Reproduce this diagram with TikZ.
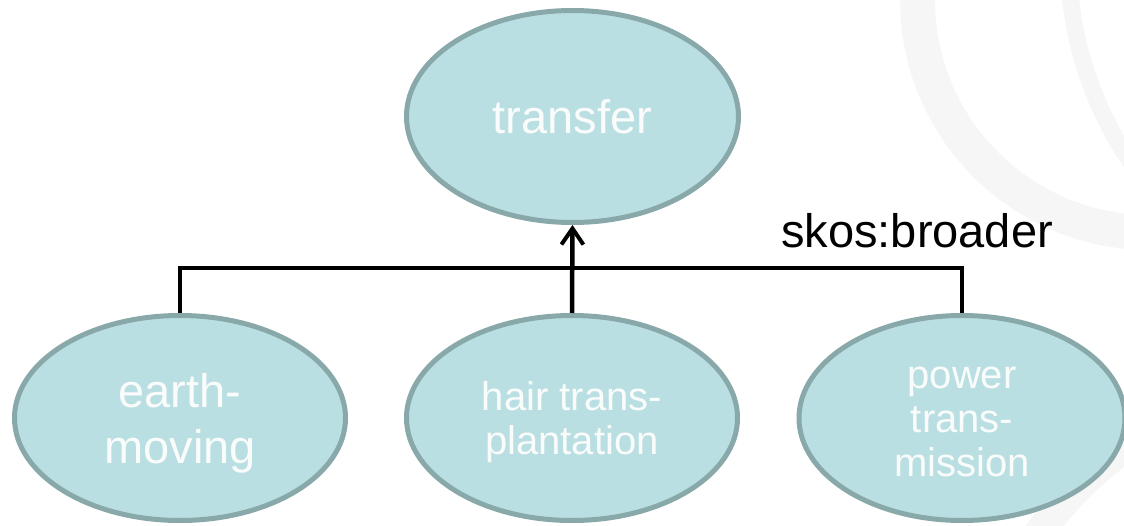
\documentclass[tikz,border=0pt]{standalone}
\usepackage{fontspec}
\setmainfont{Liberation Sans}
\usetikzlibrary{shapes.geometric,arrows.meta}
\definecolor{conceptfill}{RGB}{186,223,226}
\definecolor{conceptline}{RGB}{136,168,170}
\definecolor{conceptText}{RGB}{250,252,252}
\definecolor{ringgray}{RGB}{246,246,246}
\tikzset{
  concept/.style={ellipse, draw=conceptline, fill=conceptfill, line width=5pt,
    inner sep=0pt, text=conceptText, align=center, text depth=0pt},
  bigfont/.style={font=\fontsize{47}{56}\selectfont},
  smallfont/.style={font=\fontsize{40}{44}\selectfont},
  conn/.style={draw=black, line width=4.5pt},
  ring/.style={fill=ringgray, even odd rule, draw=none}
}
\begin{document}
\begin{tikzpicture}[x=1pt,y=-1pt]
\useasboundingbox (0,0) rectangle (1124,526);
\begin{scope}
\clip (0,0) rectangle (1124,526);
\path[ring] (1150,0) circle[radius=250] (1150,0) circle[radius=215];
\path[ring] (1428,-40) circle[radius=368] (1428,-40) circle[radius=351];
\path[ring] (1350,760) circle[radius=400] (1350,760) circle[radius=370];
\end{scope}

\node[concept, bigfont, minimum width=332pt, minimum height=212pt] (transfer) at (572.5,116.5) {transfer};
\node[concept, bigfont, minimum width=331pt, minimum height=205pt] (earth) at (180,418) {earth-\\moving};
\node[concept, smallfont, minimum width=331pt, minimum height=205pt] (hair) at (572,418) {hair trans-\\plantation};
\node[concept, smallfont, minimum width=326pt, minimum height=205pt] (power) at (962,418) {\vphantom{h}power\\trans-\\mission};

\coordinate (bar) at (572,268);
\draw[conn] (earth.north) -- (earth.north |- bar) -- (power.north |- bar) -- (power.north);
\draw[conn, -{Straight Barb[length=16pt,width=22pt,line width=4pt]}] (hair.north) -- (transfer.south);

\node[anchor=base west, inner sep=0pt, font=\fontsize{47}{56}\selectfont, text=black] (label) at (781,248) {skos:broader};
\end{tikzpicture}
\end{document}
